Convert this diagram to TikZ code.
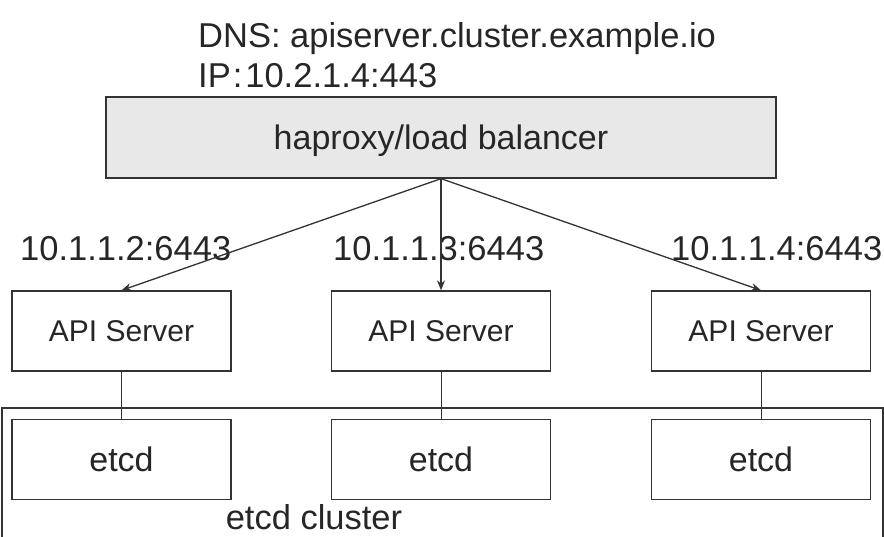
\documentclass[tikz,border=0pt]{standalone}
\usepackage{fontspec}
\setmainfont{Liberation Sans}
\usetikzlibrary{arrows.meta}
\definecolor{ln}{HTML}{333333}
\definecolor{lbfill}{HTML}{E8E8E8}
\tikzset{
  box/.style={draw=ln, line width=1.3pt, minimum width=219pt, minimum height=80pt, inner sep=0pt, text=black!85, font=\fontsize{34}{40}\selectfont},
  txt/.style={inner sep=0pt, text=black!85, font=\fontsize{34.5}{40}\selectfont},
  arr/.style={ln, line width=1.3pt, -{Stealth[length=10pt,width=8pt]}},
}
\begin{document}
\begin{tikzpicture}[x=1pt,y=-1pt]
\useasboundingbox (0,0) rectangle (884,536);
\node[txt, anchor=base west] (dns) at (198,47) {DNS: apiserver.cluster.example.io};
\node[txt, anchor=base west] (ip) at (198,87) {IP\kern2pt:\kern3pt10.2.1.4:443};
\node[box, fill=lbfill, minimum width=670pt, minimum height=81pt, text depth=0pt] (lb) at (441,137.5) {haproxy/load balancer};

% etcd cluster frame, open at the bottom
\draw[ln, line width=1.3pt] (2,545) -- (2,408) -- (883,408) -- (883,545);
\node[txt, anchor=base] (cluster) at (314,529) {etcd cluster};

\foreach \i/\x/\lx/\ip in {1/121.5/20/10.1.1.2:6443, 2/441/333/10.1.1.3:6443, 3/761/671/10.1.1.4:6443} {
  \node[box, font=\fontsize{30}{36}\selectfont] (api\i) at (\x,331) {API Server};
  \node[box] (etcd\i) at (\x,459.5) {etcd};
  \node[txt, anchor=base west] (port\i) at (\lx,260) {\ip};
  \draw[ln, line width=1pt] (api\i) -- (etcd\i);
  \draw[arr] (lb.south) -- (api\i.north);
}
\end{tikzpicture}
\end{document}
